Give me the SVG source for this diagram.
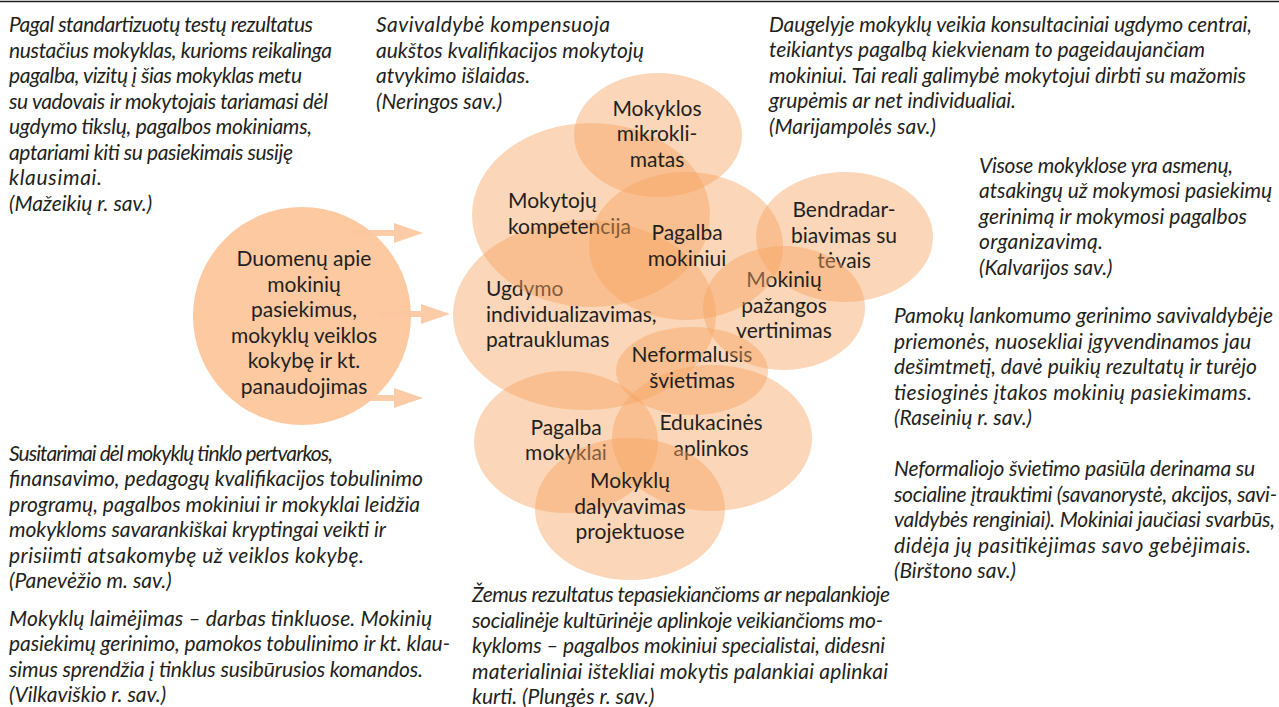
<svg xmlns="http://www.w3.org/2000/svg" width="1279" height="707" viewBox="0 0 1279 707">
<defs>
<style>
text{font-family:Lato,"Noto Sans","DejaVu Sans",sans-serif;font-size:21px;fill:#231f20}
.it{font-style:italic}
.c{text-anchor:middle}
.bub{fill:#f7a461;fill-opacity:0.45}
.src{fill:#fcc9a1}
.shaft{stroke:#fcc7a0;stroke-width:6;stroke-opacity:0.9;fill:none}
</style>
<marker id="head" viewBox="0 0 29 20" refX="0" refY="10" markerWidth="29" markerHeight="20" markerUnits="userSpaceOnUse" orient="auto">
<path d="M0,0 L29,10 L0,20 Z" fill="#fcc7a0" fill-opacity="0.9"/>
</marker>
</defs>
<rect width="1279" height="707" fill="#ffffff"/>
<line x1="0" y1="1.5" x2="1279" y2="1.5" stroke="#231f20" stroke-width="1.5"/>

<g id="quotes" class="it">
<text class="it" x="9" y="32" textLength="304">Pagal standartizuotų testų rezultatus</text>
<text class="it" x="9" y="57.5" textLength="323">nustačius mokyklas, kurioms reikalinga</text>
<text class="it" x="9" y="83" textLength="293">pagalba, vizitų į šias mokyklas metu</text>
<text class="it" x="9" y="108.5" textLength="319">su vadovais ir mokytojais tariamasi dėl</text>
<text class="it" x="9" y="134" textLength="303">ugdymo tikslų, pagalbos mokiniams,</text>
<text class="it" x="9" y="159.5" textLength="284">aptariami kiti su pasiekimais susiję</text>
<text class="it" x="9" y="185" textLength="93">klausimai.</text>
<text class="it" x="9" y="210.5">(Mažeikių r. sav.)</text>

<text class="it" x="376" y="32" textLength="234">Savivaldybė kompensuoja</text>
<text class="it" x="376" y="57.5">aukštos kvalifikacijos mokytojų</text>
<text class="it" x="376" y="83">atvykimo išlaidas.</text>
<text class="it" x="376" y="108.5">(Neringos sav.)</text>

<text class="it" x="769" y="31.5" textLength="483">Daugelyje mokyklų veikia konsultaciniai ugdymo centrai,</text>
<text class="it" x="769" y="57" textLength="436">teikiantys pagalbą kiekvienam to pageidaujančiam</text>
<text class="it" x="769" y="82.5" textLength="477">mokiniui. Tai reali galimybė mokytojui dirbti su mažomis</text>
<text class="it" x="769" y="108" textLength="247">grupėmis ar net individualiai.</text>
<text class="it" x="769" y="133.5">(Marijampolės sav.)</text>

<text class="it" x="979" y="172.5" textLength="254">Visose mokyklose yra asmenų,</text>
<text class="it" x="979" y="198" textLength="293">atsakingų už mokymosi pasiekimų</text>
<text class="it" x="979" y="223.5" textLength="268">gerinimą ir mokymosi pagalbos</text>
<text class="it" x="979" y="249" textLength="124">organizavimą.</text>
<text class="it" x="979" y="274.5">(Kalvarijos sav.)</text>

<text class="it" x="894" y="323" textLength="379">Pamokų lankomumo gerinimo savivaldybėje</text>
<text class="it" x="894" y="348.5" textLength="357">priemonės, nuosekliai įgyvendinamos jau</text>
<text class="it" x="894" y="374" textLength="363">dešimtmetį, davė puikių rezultatų ir turėjo</text>
<text class="it" x="894" y="399.5" textLength="358">tiesioginės įtakos mokinių pasiekimams.</text>
<text class="it" x="894" y="425">(Raseinių r. sav.)</text>

<text class="it" x="894" y="476" textLength="361">Neformaliojo švietimo pasiūla derinama su</text>
<text class="it" x="894" y="501.5" textLength="383">socialine įtrauktimi (savanorystė, akcijos, savi-</text>
<text class="it" x="894" y="527" textLength="381">valdybės renginiai). Mokiniai jaučiasi svarbūs,</text>
<text class="it" x="894" y="552.5" textLength="357">didėja jų pasitikėjimas savo gebėjimais.</text>
<text class="it" x="894" y="578">(Birštono sav.)</text>

<text class="it" x="9" y="460.5" textLength="324">Susitarimai dėl mokyklų tinklo pertvarkos,</text>
<text class="it" x="9" y="486" textLength="414">finansavimo, pedagogų kvalifikacijos tobulinimo</text>
<text class="it" x="9" y="511.5" textLength="411">programų, pagalbos mokiniui ir mokyklai leidžia</text>
<text class="it" x="9" y="537" textLength="377">mokykloms savarankiškai kryptingai veikti ir</text>
<text class="it" x="9" y="562.5" textLength="355">prisiimti atsakomybę už veiklos kokybę.</text>
<text class="it" x="9" y="588">(Panevėžio m. sav.)</text>

<text class="it" x="9" y="625.5" textLength="423">Mokyklų laimėjimas – darbas tinkluose. Mokinių</text>
<text class="it" x="9" y="651" textLength="441">pasiekimų gerinimo, pamokos tobulinimo ir kt. klau-</text>
<text class="it" x="9" y="676.5" textLength="414">simus sprendžia į tinklus susibūrusios komandos.</text>
<text class="it" x="9" y="702">(Vilkaviškio r. sav.)</text>

<text class="it" x="472" y="602" textLength="418">Žemus rezultatus tepasiekiančioms ar nepalankioje</text>
<text class="it" x="472" y="627.5" textLength="411">socialinėje kultūrinėje aplinkoje veikiančioms mo-</text>
<text class="it" x="472" y="653" textLength="413">kykloms – pagalbos mokiniui specialistai, didesni</text>
<text class="it" x="472" y="678.5" textLength="416">materialiniai ištekliai mokytis palankiai aplinkai</text>
<text class="it" x="472" y="704">kurti. (Plungės r. sav.)</text>
</g>

<g id="node-duomenu">
<circle class="src" cx="302" cy="316" r="109"/>
<text class="c" x="304" y="266">Duomenų apie</text>
<text class="c" x="304" y="291.5">mokinių</text>
<text class="c" x="304" y="317">pasiekimus,</text>
<text class="c" x="304" y="342.5">mokyklų veiklos</text>
<text class="c" x="304" y="368">kokybę ir kt.</text>
<text class="c" x="304" y="393.5">panaudojimas</text>
</g>

<g id="connectors">
<line class="shaft" x1="352" y1="233" x2="394" y2="233" marker-end="url(#head)"/>
<line class="shaft" x1="378" y1="314" x2="421" y2="314" marker-end="url(#head)"/>
<line class="shaft" x1="362" y1="398" x2="394" y2="398" marker-end="url(#head)"/>
</g>

<g id="node-ugdymo">
<ellipse class="bub" cx="584.5" cy="315" rx="131.5" ry="95"/>
<text x="486" y="296">Ugdymo</text>
<text x="486" y="321.5">individualizavimas,</text>
<text x="486" y="347">patrauklumas</text>
</g>

<g id="node-mokytoju">
<ellipse class="bub" cx="591" cy="215" rx="119" ry="92"/>
<text x="508" y="208">Mokytojų</text>
<text x="508" y="233.5">kompetencija</text>
</g>

<g id="node-mikroklimatas">
<ellipse class="bub" cx="658" cy="135" rx="84" ry="62"/>
<text class="c" x="657" y="115.5">Mokyklos</text>
<text class="c" x="657" y="141">mikrokli-</text>
<text class="c" x="657" y="166.5">matas</text>
</g>

<g id="node-bendradarbiavimas">
<ellipse class="bub" cx="844.5" cy="237" rx="88.5" ry="65"/>
<text class="c" x="844" y="217">Bendradar-</text>
<text class="c" x="844" y="242.5">biavimas su</text>
<text class="c" x="844" y="268">tėvais</text>
</g>

<g id="node-pagalba-mokyklai">
<ellipse class="bub" cx="566" cy="442" rx="92" ry="71"/>
<text class="c" x="566" y="435">Pagalba</text>
<text class="c" x="566" y="460">mokyklai</text>
</g>

<g id="node-edukacines">
<ellipse class="bub" cx="712" cy="438" rx="100" ry="73"/>
<text class="c" x="711" y="430">Edukacinės</text>
<text class="c" x="711" y="455.5">aplinkos</text>
</g>

<g id="node-projektai">
<ellipse class="bub" cx="630" cy="509" rx="95" ry="71"/>
<text class="c" x="630" y="488">Mokyklų</text>
<text class="c" x="630" y="513.5">dalyvavimas</text>
<text class="c" x="630" y="539">projektuose</text>
</g>

<g id="node-neformalusis">
<ellipse class="bub" cx="692" cy="371" rx="76" ry="44"/>
<text class="c" x="692" y="362">Neformalusis</text>
<text class="c" x="692" y="387.5">švietimas</text>
</g>

<g id="node-pazanga">
<ellipse class="bub" cx="784" cy="308" rx="81" ry="62"/>
<text class="c" x="784" y="287">Mokinių</text>
<text class="c" x="784" y="312.5">pažangos</text>
<text class="c" x="784" y="338">vertinimas</text>
</g>

<g id="node-pagalba-mokiniui">
<ellipse class="bub" cx="686" cy="246" rx="97" ry="74"/>
<text class="c" x="687" y="240">Pagalba</text>
<text class="c" x="687" y="265.5">mokiniui</text>
</g>
</svg>
